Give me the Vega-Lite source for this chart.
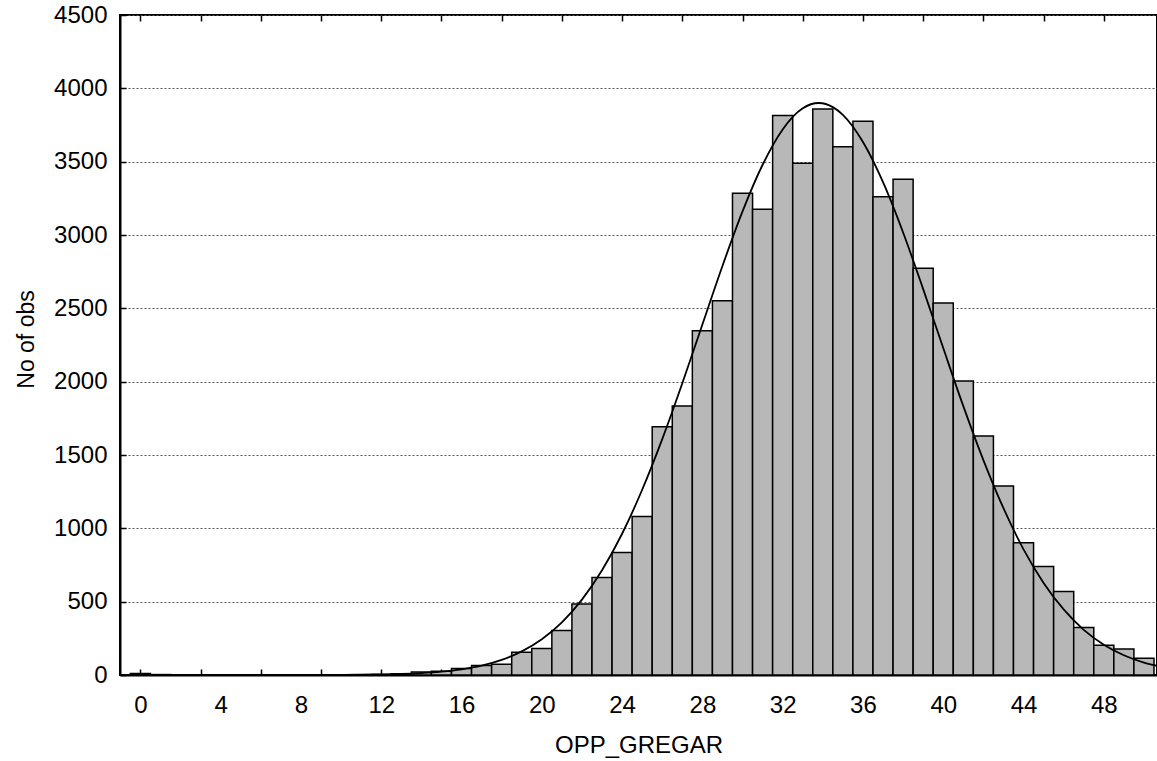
{
  "$schema": "https://vega.github.io/schema/vega-lite/v6.json",
  "width": 1037,
  "height": 660,
  "autosize": {"type": "none"},
  "padding": {"left": 120, "top": 15, "right": 0, "bottom": 86},
  "background": "white",
  "config": {
    "font": "Liberation Sans",
    "view": {"stroke": "black", "strokeWidth": 2}
  },
  "datasets": {
    "bins": [
      {"bin_start": -0.5, "bin_end": 0.5, "count": 10},
      {"bin_start": 0.5, "bin_end": 1.5, "count": 3},
      {"bin_start": 10.5, "bin_end": 11.5, "count": 2},
      {"bin_start": 11.5, "bin_end": 12.5, "count": 4},
      {"bin_start": 12.5, "bin_end": 13.5, "count": 8},
      {"bin_start": 13.5, "bin_end": 14.5, "count": 20},
      {"bin_start": 14.5, "bin_end": 15.5, "count": 25},
      {"bin_start": 15.5, "bin_end": 16.5, "count": 45},
      {"bin_start": 16.5, "bin_end": 17.5, "count": 65},
      {"bin_start": 17.5, "bin_end": 18.5, "count": 73},
      {"bin_start": 18.5, "bin_end": 19.5, "count": 155},
      {"bin_start": 19.5, "bin_end": 20.5, "count": 180},
      {"bin_start": 20.5, "bin_end": 21.5, "count": 303},
      {"bin_start": 21.5, "bin_end": 22.5, "count": 484},
      {"bin_start": 22.5, "bin_end": 23.5, "count": 665},
      {"bin_start": 23.5, "bin_end": 24.5, "count": 836},
      {"bin_start": 24.5, "bin_end": 25.5, "count": 1080},
      {"bin_start": 25.5, "bin_end": 26.5, "count": 1693},
      {"bin_start": 26.5, "bin_end": 27.5, "count": 1834},
      {"bin_start": 27.5, "bin_end": 28.5, "count": 2347},
      {"bin_start": 28.5, "bin_end": 29.5, "count": 2552},
      {"bin_start": 29.5, "bin_end": 30.5, "count": 3284},
      {"bin_start": 30.5, "bin_end": 31.5, "count": 3175},
      {"bin_start": 31.5, "bin_end": 32.5, "count": 3814},
      {"bin_start": 32.5, "bin_end": 33.5, "count": 3489},
      {"bin_start": 33.5, "bin_end": 34.5, "count": 3859},
      {"bin_start": 34.5, "bin_end": 35.5, "count": 3602},
      {"bin_start": 35.5, "bin_end": 36.5, "count": 3775},
      {"bin_start": 36.5, "bin_end": 37.5, "count": 3261},
      {"bin_start": 37.5, "bin_end": 38.5, "count": 3380},
      {"bin_start": 38.5, "bin_end": 39.5, "count": 2773},
      {"bin_start": 39.5, "bin_end": 40.5, "count": 2537},
      {"bin_start": 40.5, "bin_end": 41.5, "count": 2005},
      {"bin_start": 41.5, "bin_end": 42.5, "count": 1630},
      {"bin_start": 42.5, "bin_end": 43.5, "count": 1289},
      {"bin_start": 43.5, "bin_end": 44.5, "count": 902},
      {"bin_start": 44.5, "bin_end": 45.5, "count": 739},
      {"bin_start": 45.5, "bin_end": 46.5, "count": 570},
      {"bin_start": 46.5, "bin_end": 47.5, "count": 324},
      {"bin_start": 47.5, "bin_end": 48.5, "count": 203},
      {"bin_start": 48.5, "bin_end": 49.5, "count": 178},
      {"bin_start": 49.5, "bin_end": 50.5, "count": 114}
    ],
    "curve": [
      {"v": -1, "fit": 0}, {"v": 2, "fit": 0}, {"v": 5, "fit": 0}, {"v": 8, "fit": 0},
      {"v": 10, "fit": 1}, {"v": 11, "fit": 2}, {"v": 12, "fit": 4}, {"v": 13, "fit": 7},
      {"v": 14, "fit": 13}, {"v": 15, "fit": 23}, {"v": 16, "fit": 39}, {"v": 17, "fit": 64},
      {"v": 18, "fit": 103}, {"v": 19, "fit": 161}, {"v": 20, "fit": 244}, {"v": 21, "fit": 359},
      {"v": 22, "fit": 514}, {"v": 23, "fit": 714}, {"v": 24, "fit": 963}, {"v": 25, "fit": 1263},
      {"v": 26, "fit": 1608}, {"v": 27, "fit": 1989}, {"v": 28, "fit": 2390}, {"v": 29, "fit": 2789},
      {"v": 30, "fit": 3161}, {"v": 31, "fit": 3479}, {"v": 32, "fit": 3720}, {"v": 33, "fit": 3864},
      {"v": 33.8, "fit": 3900}, {"v": 34.5, "fit": 3872}, {"v": 35, "fit": 3819}, {"v": 36, "fit": 3634},
      {"v": 37, "fit": 3360}, {"v": 38, "fit": 3017}, {"v": 39, "fit": 2631}, {"v": 40, "fit": 2229},
      {"v": 41, "fit": 1833}, {"v": 42, "fit": 1465}, {"v": 43, "fit": 1137}, {"v": 44, "fit": 857},
      {"v": 45, "fit": 628}, {"v": 46, "fit": 447}, {"v": 47, "fit": 308}, {"v": 48, "fit": 207},
      {"v": 49, "fit": 135}, {"v": 50, "fit": 85}, {"v": 50.65, "fit": 63}
    ]
  },
  "layer": [
    {
      "data": {"name": "bins"},
      "mark": {"type": "bar", "fill": "#b8b8b8", "stroke": "black", "strokeWidth": 1.5, "clip": true},
      "encoding": {
        "x": {
          "field": "bin_start",
          "type": "quantitative",
          "scale": {"domain": [-1.016, 50.65], "nice": false, "zero": false},
          "axis": {
            "orient": "bottom",
            "title": "OPP_GREGAR",
            "values": [0, 3, 4, 6, 8, 9, 12, 15, 16, 18, 20, 21, 24, 27, 28, 30, 32, 33, 36, 39, 40, 42, 44, 45, 48],
            "labelExpr": "datum.value % 4 === 0 ? datum.label : ''",
            "tickOpacity": {"condition": {"test": "datum.value % 3 === 0", "value": 1}, "value": 0},
            "tickSize": -6,
            "tickWidth": 1.5,
            "tickColor": "black",
            "labelPadding": 24,
            "labelFontSize": 24,
            "labelColor": "black",
            "labelFlush": false,
            "labelOverlap": false,
            "domain": true,
            "domainColor": "black",
            "domainWidth": 2,
            "grid": false,
            "titleFontSize": 24,
            "titleFontWeight": "normal",
            "titleColor": "black",
            "titleBaseline": "alphabetic",
            "titleY": 77
          }
        },
        "x2": {"field": "bin_end"},
        "y": {
          "field": "count",
          "type": "quantitative",
          "stack": null,
          "scale": {"domain": [0, 4500], "nice": false},
          "axis": {
            "title": "No of obs",
            "format": "d",
            "values": [0, 500, 1000, 1500, 2000, 2500, 3000, 3500, 4000, 4500],
            "grid": true,
            "gridDash": [2, 2],
            "gridColor": "#555555",
            "gridWidth": 1,
            "tickSize": -6,
            "tickWidth": 1.5,
            "tickColor": "black",
            "labelPadding": 19,
            "labelFontSize": 24,
            "labelColor": "black",
            "labelFlush": false,
            "labelOverlap": false,
            "domain": true,
            "domainColor": "black",
            "domainWidth": 2,
            "titleFontSize": 23,
            "titleFontWeight": "normal",
            "titleColor": "black",
            "titleBaseline": "alphabetic",
            "titleX": -87,
            "titleY": 324
          }
        },
        "y2": {"datum": 0}
      }
    },
    {
      "data": {"name": "curve"},
      "mark": {"type": "line", "color": "black", "strokeWidth": 1.8, "interpolate": "monotone", "clip": true},
      "encoding": {
        "x": {
          "field": "v",
          "type": "quantitative",
          "axis": {
            "orient": "top",
            "title": null,
            "values": [0, 3, 6, 9, 12, 15, 18, 21, 24, 27, 30, 33, 36, 39, 42, 45, 48],
            "labels": false,
            "domain": false,
            "grid": false,
            "tickSize": -6,
            "tickWidth": 1.5,
            "tickColor": "black"
          }
        },
        "y": {"field": "fit", "type": "quantitative", "axis": null}
      }
    }
  ],
  "resolve": {"axis": {"x": "independent", "y": "independent"}}
}
